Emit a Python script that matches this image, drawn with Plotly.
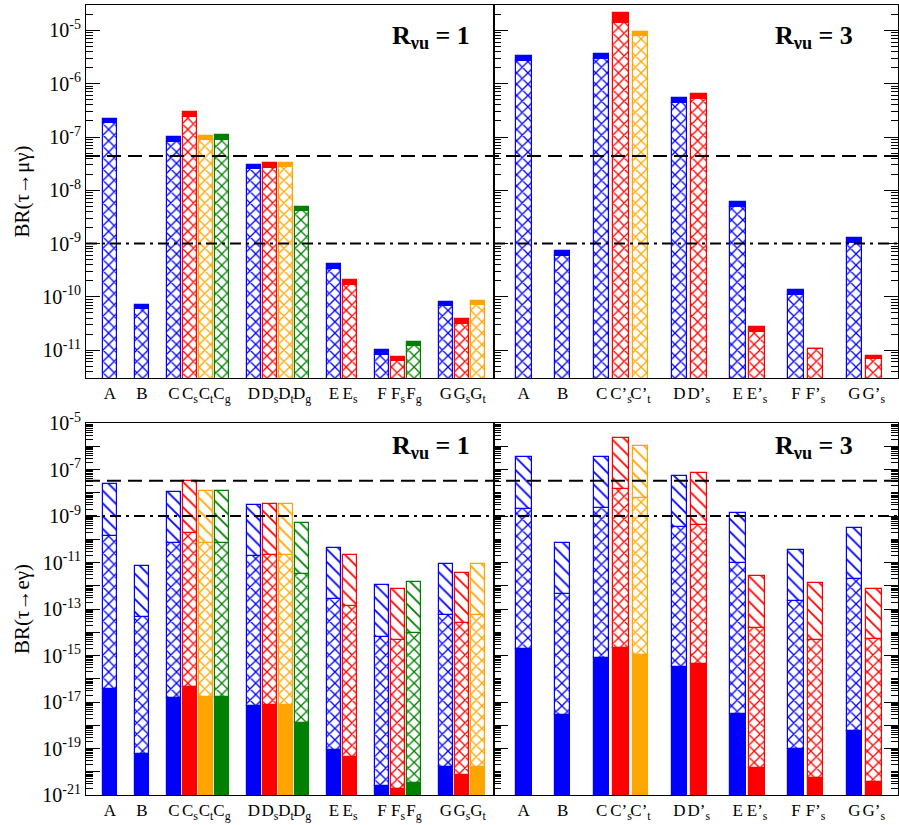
import numpy as np
import plotly.graph_objects as go

# ---------------- data ----------------
labels_r1 = ["A", "B", "C", "C<sub>s</sub>", "C<sub>t</sub>", "C<sub>g</sub>",
             "D", "D<sub>s</sub>", "D<sub>t</sub>", "D<sub>g</sub>",
             "E", "E<sub>s</sub>", "F", "F<sub>s</sub>", "F<sub>g</sub>",
             "G", "G<sub>s</sub>", "G<sub>t</sub>"]
group_r1 = ["A", "B", "C", "C", "C", "C", "D", "D", "D", "D", "E", "E",
            "F", "F", "F", "G", "G", "G"]
variant_r1 = ["", "", "", "s", "t", "g", "", "s", "t", "g", "", "s",
              "", "s", "g", "", "s", "t"]

labels_r3 = ["A", "B", "C", "C’<sub>s</sub>", "C’<sub>t</sub>", "D", "D’<sub>s</sub>",
             "E", "E’<sub>s</sub>", "F", "F’<sub>s</sub>", "G", "G’<sub>s</sub>"]
group_r3 = ["A", "B", "C", "C", "C", "D", "D", "E", "E", "F", "F", "G", "G"]
variant_r3 = ["", "", "", "s", "t", "", "s", "", "s", "", "s", "", "s"]

# BR(tau -> mu gamma), R_nu_u = 1 : hatched part and total (solid cap on top)
mu_r1_hatch = [1.8e-7, 5.8e-11, 8.0e-8, 2.4e-7, 8.7e-8, 8.8e-8, 2.5e-8, 2.65e-8, 2.7e-8, 4.0e-9,
               3.35e-10, 1.7e-10, 8.1e-12, 6.3e-12, 1.18e-11, 6.6e-11, 3.1e-11, 7.0e-11]
mu_r1_total = [2.2e-7, 7.1e-11, 9.8e-8, 2.9e-7, 1.06e-7, 1.07e-7, 3.0e-8, 3.2e-8, 3.3e-8, 4.9e-9,
               4.1e-10, 2.1e-10, 9.9e-12, 7.5e-12, 1.45e-11, 8.1e-11, 3.76e-11, 8.5e-11]
# R_nu_u = 3
mu_r3_hatch = [2.66e-6, 5.9e-10, 2.95e-6, 1.37e-5, 7.7e-6, 4.3e-7, 5.2e-7, 4.9e-9, 2.2e-11,
               1.1e-10, 1.06e-11, 1.03e-9, 6.7e-12]
mu_r3_total = [3.25e-6, 7.2e-10, 3.6e-6, 2.1e-5, 9.4e-6, 5.3e-7, 6.3e-7, 6.05e-9, 2.7e-11,
               1.35e-10, 1.06e-11, 1.26e-9, 7.8e-12]

# BR(tau -> e gamma): solid part, cross-hatched part, diagonal-hatched part (total)
e_r1_solid = [3.6e-17, 6.0e-20, 1.5e-17, 4.4e-17, 1.7e-17, 1.7e-17, 6.7e-18, 7.4e-18, 7.4e-18, 1.3e-18,
              8.5e-20, 4.4e-20, 2.4e-21, 1.8e-21, 3.4e-21, 1.55e-20, 7.2e-21, 1.6e-20]
e_r1_cross = [1.45e-10, 4.5e-14, 6.6e-11, 1.95e-10, 7.2e-11, 7.2e-11, 2.0e-11, 2.1e-11, 2.1e-11, 3.2e-12,
              2.6e-13, 1.3e-13, 6.0e-15, 4.8e-15, 8.9e-15, 5.3e-14, 2.4e-14, 5.3e-14]
e_r1_total = [2.3e-8, 7.4e-12, 1.05e-8, 3.1e-8, 1.16e-8, 1.16e-8, 3.1e-9, 3.45e-9, 3.45e-9, 5.0e-10,
              4.4e-11, 2.1e-11, 1.06e-12, 7.6e-13, 1.48e-12, 8.5e-12, 3.7e-12, 8.7e-12]

e_r3_solid = [1.95e-15, 2.7e-18, 7.7e-16, 2.1e-15, 1.1e-15, 3.3e-16, 4.4e-16, 3.1e-18, 1.4e-20,
              9.2e-20, 5.4e-21, 5.5e-19, 3.5e-21]
e_r3_cross = [2.1e-9, 4.4e-13, 2.2e-9, 1.4e-8, 6.2e-9, 3.3e-10, 4.1e-10, 9.1e-12, 1.6e-14,
              2.2e-13, 4.6e-15, 1.9e-12, 4.9e-15]
e_r3_total = [3.3e-7, 6.9e-11, 3.6e-7, 2.2e-6, 1.03e-6, 5.3e-8, 6.9e-8, 1.4e-9, 2.7e-12,
              3.6e-11, 1.3e-12, 3.1e-10, 7.6e-13]

limit_mu = 4.4e-8
limit_e = 3.3e-8
future_limit = 1e-9

mu_tick_exp = [-5, -6, -7, -8, -9, -10, -11]
e_tick_exp = list(range(-5, -22, -1))
e_label_exp = [-5, -7, -9, -11, -13, -15, -17, -19, -21]

# ---------------- styling ----------------
variant_color = {"": "#0000ff", "s": "#ff0000", "t": "#ffa500", "g": "#008000"}
FONT = "Liberation Serif"


def slot_positions(groups):
    pos, x, prev = [], 0, None
    for g in groups:
        if prev is not None:
            x += 1 if g == prev else 2
        pos.append(x)
        prev = g
    return pos


x_r1 = slot_positions(group_r1)
x_r3 = slot_positions(group_r3)
col_r1 = [variant_color[v] for v in variant_r1]
col_r3 = [variant_color[v] for v in variant_r3]

MU_RANGE = [np.log10(3e-12), np.log10(3e-5)]
E_RANGE = [-21, -5]


def seg(x, lo, hi, colors, shape, xa, ya, width):
    heights = [h - l for h, l in zip(hi, lo)]
    if shape:
        sz, sol = (8, 0.3) if shape == "x" else (9, 0.2)
        marker = dict(color="white",
                      pattern=dict(shape=shape, fgcolor=colors, bgcolor="white",
                                   size=sz, solidity=sol, fillmode="replace"),
                      line=dict(color=colors, width=1.2))
    else:
        marker = dict(color=colors, line=dict(color=colors, width=1.2))
    return go.Bar(x=x, base=lo, y=heights, width=width, marker=marker,
                  xaxis=xa, yaxis=ya, showlegend=False, hoverinfo="skip")


fig = go.Figure()
lowbase_mu = 10 ** (MU_RANGE[0] - 2)
lowbase_e = 10 ** (E_RANGE[0] - 2)

# top-left
fig.add_trace(seg(x_r1, [lowbase_mu] * len(x_r1), mu_r1_hatch, col_r1, "x", "x", "y", 0.9))
fig.add_trace(seg(x_r1, mu_r1_hatch, mu_r1_total, col_r1, "", "x", "y", 0.9))
# top-right
fig.add_trace(seg(x_r3, [lowbase_mu] * len(x_r3), mu_r3_hatch, col_r3, "x", "x2", "y2", 0.8))
fig.add_trace(seg(x_r3, mu_r3_hatch, mu_r3_total, col_r3, "", "x2", "y2", 0.8))
# bottom-left
fig.add_trace(seg(x_r1, [lowbase_e] * len(x_r1), e_r1_solid, col_r1, "", "x3", "y3", 0.9))
fig.add_trace(seg(x_r1, e_r1_solid, e_r1_cross, col_r1, "x", "x3", "y3", 0.9))
fig.add_trace(seg(x_r1, e_r1_cross, e_r1_total, col_r1, "\\", "x3", "y3", 0.9))
# bottom-right
fig.add_trace(seg(x_r3, [lowbase_e] * len(x_r3), e_r3_solid, col_r3, "", "x4", "y4", 0.8))
fig.add_trace(seg(x_r3, e_r3_solid, e_r3_cross, col_r3, "x", "x4", "y4", 0.8))
fig.add_trace(seg(x_r3, e_r3_cross, e_r3_total, col_r3, "\\", "x4", "y4", 0.8))

W, H = 899, 825
ML, MR, MT, MB = 86, 1, 5, 30
pw, ph = W - ML - MR, H - MT - MB
xsplit = (494 - ML) / pw
top_dom = [(H - MB - 378) / ph, 1]
bot_dom = [0, (H - MB - 423) / ph]

tickfont = dict(family=FONT, size=20, color="black")
xtickfont = dict(family=FONT, size=17, color="black")


def xax(dom, rng, pos, labels, anchor):
    return dict(domain=dom, range=rng, tickmode="array", tickvals=pos, ticktext=labels,
                ticks="", tickangle=0, tickfont=xtickfont, showgrid=False, zeroline=False,
                showline=True, linecolor="black", linewidth=1, mirror=True, anchor=anchor,
                automargin=False, fixedrange=True)


def yax(dom, rng, tvals, ttext, anchor, show_labels, title, mirror):
    return dict(domain=dom, type="log", range=rng, tickmode="array", tickvals=tvals,
                ticktext=ttext, ticks="inside", ticklen=14, tickwidth=1, tickcolor="black",
                minor=dict(ticks="inside", ticklen=7, tickwidth=1, tickcolor="black", dtick="D1"),
                showticklabels=show_labels, tickfont=tickfont, showgrid=False, zeroline=False,
                showline=True, linecolor="black", linewidth=1, mirror=mirror, anchor=anchor,
                title=dict(text=title, font=dict(family=FONT, size=21, color="black"), standoff=6),
                automargin=False, fixedrange=True)


mu_tvals = [10.0 ** k for k in mu_tick_exp]
mu_ttext = ["10<sup>%d</sup>" % k for k in mu_tick_exp]
e_tvals = [10.0 ** k for k in e_tick_exp]
e_ttext = ["10<sup>%d</sup>" % k if k in e_label_exp else "" for k in e_tick_exp]

rng_r1 = [-1.5, 24.0]
rng_r3 = [-1.53, 19.24]

fig.update_layout(
    width=W, height=H, margin=dict(l=ML, r=MR, t=MT, b=MB, autoexpand=False),
    paper_bgcolor="white", plot_bgcolor="white", barmode="overlay", bargap=0,
    font=dict(family=FONT, color="black"),
    xaxis=xax([0, xsplit], rng_r1, x_r1, labels_r1, "y"),
    xaxis2=xax([xsplit, 1], rng_r3, x_r3, labels_r3, "y2"),
    xaxis3=xax([0, xsplit], rng_r1, x_r1, labels_r1, "y3"),
    xaxis4=xax([xsplit, 1], rng_r3, x_r3, labels_r3, "y4"),
    yaxis=yax(top_dom, MU_RANGE, mu_tvals, mu_ttext, "x", True, "BR(τ→μγ)", True),
    yaxis2=yax(top_dom, MU_RANGE, mu_tvals, mu_ttext, "x2", False, "", "ticks"),
    yaxis3=yax(bot_dom, E_RANGE, e_tvals, e_ttext, "x3", True, "BR(τ→eγ)", True),
    yaxis4=yax(bot_dom, E_RANGE, e_tvals, e_ttext, "x4", False, "", "ticks"),
)

dash_long = "14px,7px"
dash_dot = "11px,5px,3px,5px"
for yref, lim in (("y", limit_mu), ("y3", limit_e)):
    fig.add_shape(type="line", xref="paper", x0=0, x1=1, yref=yref, y0=lim, y1=lim,
                  line=dict(color="black", width=2, dash=dash_long), layer="above")
    fig.add_shape(type="line", xref="paper", x0=0, x1=1, yref=yref, y0=future_limit,
                  y1=future_limit, line=dict(color="black", width=2, dash=dash_dot), layer="above")

rtxt = [("x domain", "y domain", 0.945, 0.914, "1"), ("x2 domain", "y2 domain", 0.893, 0.914, "3"),
        ("x3 domain", "y3 domain", 0.945, 0.935, "1"), ("x4 domain", "y4 domain", 0.893, 0.935, "3")]
for xr, yr, xx, yy, val in rtxt:
    fig.add_annotation(xref=xr, yref=yr, x=xx, y=yy, xanchor="right", yanchor="middle",
                       text="<b>R<sub>νu</sub> = %s</b>" % val, showarrow=False,
                       font=dict(family=FONT, size=26, color="black"))

fig.write_html("out.html", config={"displayModeBar": False},
               post_script="document.body.style.margin='0px';")
